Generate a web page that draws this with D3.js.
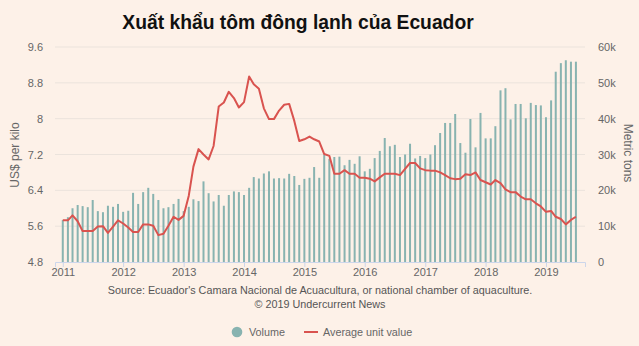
<!DOCTYPE html>
<html>
<head>
<meta charset="utf-8">
<script src="https://cdn.jsdelivr.net/npm/d3@7"></script>
<style>
  body { margin: 0; background: #fdf1e8; }
  svg { display: block; font-family: "Liberation Sans", Arial, sans-serif; }
</style>
</head>
<body>
<div id="chart"></div>
<script>
// monthly volume, thousand metric tons, Jan 2011 - Jul 2019
var volume = [
  11.7, 12.5, 15.0, 15.9, 15.6, 15.3, 17.3, 14.2, 13.9, 15.7, 15.4, 16.2,
  14.0, 14.3, 19.3, 16.2, 19.5, 20.7, 19.0, 17.3, 15.0, 15.3, 16.2, 17.6,
  14.2, 15.4, 17.5, 17.0, 22.5, 19.2, 16.9, 18.7, 15.7, 18.7, 19.7, 19.5,
  18.7, 20.7, 23.7, 23.3, 24.7, 25.3, 23.3, 23.4, 23.3, 24.6, 24.0, 21.5,
  23.2, 23.5, 26.5, 23.5, 30.0, 28.8, 29.3, 29.4, 27.0, 28.5, 27.4, 29.5,
  25.3, 26.0, 29.0, 31.0, 34.6, 32.3, 32.7, 29.3, 30.0, 33.0, 28.9, 29.6,
  29.0, 30.0, 32.6, 36.0, 38.8, 38.8, 41.3, 33.2, 30.5, 39.9, 32.0, 41.6,
  34.5, 34.5, 37.9, 47.9, 48.5, 39.8, 44.1, 44.1, 40.1, 44.4, 43.8, 43.7,
  40.4, 45.1, 53.1, 55.5, 56.3, 55.9, 55.9
];

// average unit value, US$ per kilo
var unitValue = [
  5.73, 5.73, 5.84, 5.71, 5.49, 5.49, 5.49, 5.59, 5.60, 5.45, 5.59, 5.73,
  5.66, 5.57, 5.47, 5.47, 5.64, 5.64, 5.61, 5.40, 5.43, 5.61, 5.81, 5.74,
  5.83, 6.28, 6.93, 7.32, 7.20, 7.09, 7.39, 8.27, 8.36, 8.60, 8.46, 8.25,
  8.37, 8.94, 8.77, 8.67, 8.23, 7.99, 7.99, 8.18, 8.31, 8.33, 7.95, 7.50,
  7.54, 7.60, 7.54, 7.49, 7.21, 7.17, 6.77, 6.77, 6.85, 6.77, 6.77, 6.68,
  6.68, 6.66, 6.60, 6.69, 6.77, 6.77, 6.77, 6.74, 6.88, 7.01, 7.01, 6.89,
  6.85, 6.84, 6.84, 6.80, 6.74, 6.67, 6.65, 6.66, 6.76, 6.74, 6.80, 6.63,
  6.58, 6.53, 6.63, 6.56, 6.42, 6.36, 6.36, 6.26, 6.20, 6.20, 6.11, 6.04,
  5.92, 5.94, 5.81, 5.76, 5.64, 5.74, 5.81
];

var leftTicks = [4.8, 5.6, 6.4, 7.2, 8, 8.8, 9.6];
var rightTicks = [0, 10, 20, 30, 40, 50, 60];
var yearTicks = [2011, 2012, 2013, 2014, 2015, 2016, 2017, 2018, 2019];

var months = d3.timeMonth.range(new Date(2011, 0, 1), new Date(2019, 7, 1));
var data = months.map(function (m, i) {
  return { date: m, vol: volume[i], price: unitValue[i] };
});

var W = 639, H = 346;
var barColor = "#88b3b0", lineColor = "#d9534f", txt = "#666";

var svg = d3.select("#chart").append("svg").attr("width", W).attr("height", H);
svg.append("rect").attr("width", W).attr("height", H).attr("fill", "#fdf1e8");

var x = d3.scaleTime()
  .domain([new Date(2010, 10, 15), new Date(2019, 7, 25)])
  .range([55, 585]);
var yL = d3.scaleLinear().domain([4.8, 9.6]).range([262, 47]);
var yR = d3.scaleLinear().domain([0, 60]).range([262, 47]);

// gridlines
svg.append("g").selectAll("line").data(leftTicks.slice(1)).enter().append("line")
  .attr("x1", 55).attr("x2", 585)
  .attr("y1", function (d) { return yL(d); }).attr("y2", function (d) { return yL(d); })
  .attr("stroke", "#ebe3dc").attr("stroke-width", 1);

// bars
svg.append("g").selectAll("rect").data(data).enter().append("rect")
  .attr("x", function (d) { return x(d.date) - 1; })
  .attr("width", 2)
  .attr("y", function (d) { return yR(d.vol); })
  .attr("height", function (d) { return yR(0) - yR(d.vol); })
  .attr("fill", barColor);

// line
var line = d3.line()
  .x(function (d) { return x(d.date); })
  .y(function (d) { return yL(d.price); });
svg.append("path").datum(data)
  .attr("d", line)
  .attr("fill", "none")
  .attr("stroke", lineColor)
  .attr("stroke-width", 2)
  .attr("stroke-linejoin", "round");

// axes
var gx = svg.append("g").attr("transform", "translate(0,262)")
  .call(d3.axisBottom(x)
    .tickValues(yearTicks.map(function (y) { return new Date(y, 0, 1); }))
    .tickFormat(d3.timeFormat("%Y"))
    .tickSize(5).tickPadding(1));
gx.select(".domain").attr("stroke", "#ccd6eb");
gx.selectAll(".tick line").attr("stroke", "#ccd6eb");

var gl = svg.append("g").attr("transform", "translate(55,0)")
  .call(d3.axisLeft(yL).tickValues(leftTicks).tickFormat(d3.format("~g"))
    .tickSize(0).tickPadding(12));
gl.select(".domain").remove();

var gr = svg.append("g").attr("transform", "translate(585,0)")
  .call(d3.axisRight(yR).tickValues(rightTicks)
    .tickFormat(function (d) { return d ? d + "k" : "0"; })
    .tickSize(0).tickPadding(13));
gr.select(".domain").remove();

svg.selectAll(".tick text")
  .attr("fill", txt).style("font-size", "11px")
  .style("font-family", "'Liberation Sans', Arial, sans-serif");

// axis titles
svg.append("text")
  .attr("transform", "translate(19,155) rotate(-90)")
  .attr("text-anchor", "middle")
  .attr("fill", txt).style("font-size", "12px")
  .text("US$ per kilo");
svg.append("text")
  .attr("transform", "translate(624,153) rotate(90)")
  .attr("text-anchor", "middle")
  .attr("fill", txt).style("font-size", "12px")
  .text("Metric tons");

// title
svg.append("text")
  .attr("x", 298).attr("y", 29)
  .attr("text-anchor", "middle")
  .attr("fill", "#111")
  .style("font-size", "19.3px").style("font-weight", "bold")
  .text("Xuất khẩu tôm đông lạnh của Ecuador");

// source
svg.append("text")
  .attr("x", 320).attr("y", 294)
  .attr("text-anchor", "middle")
  .attr("fill", "#555").style("font-size", "10.8px")
  .text("Source: Ecuador's Camara Nacional de Acuacultura, or national chamber of aquaculture.");
svg.append("text")
  .attr("x", 320).attr("y", 308)
  .attr("text-anchor", "middle")
  .attr("fill", "#555").style("font-size", "10.8px")
  .text("\u00a9 2019 Undercurrent News");

// legend
var lg = svg.append("g").attr("transform", "translate(0,332)");
lg.append("circle").attr("cx", 237).attr("cy", 0).attr("r", 5.3).attr("fill", barColor);
lg.append("text").attr("x", 249).attr("y", 4)
  .attr("fill", "#666").style("font-size", "10.8px").text("Volume");
lg.append("line").attr("x1", 304).attr("x2", 318).attr("y1", 0).attr("y2", 0)
  .attr("stroke", lineColor).attr("stroke-width", 2);
lg.append("text").attr("x", 323).attr("y", 4)
  .attr("fill", "#666").style("font-size", "10.8px").text("Average unit value");
</script>
</body>
</html>
